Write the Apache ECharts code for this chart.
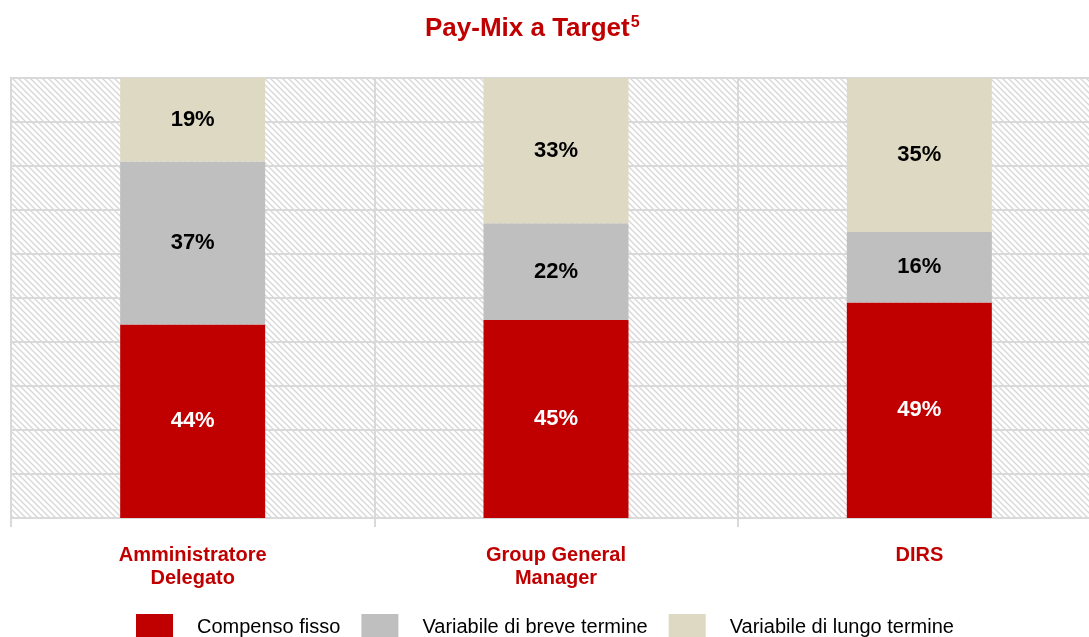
<!DOCTYPE html>
<html><head><meta charset="utf-8">
<script src="https://cdn.jsdelivr.net/npm/echarts@6/dist/echarts.min.js"></script>
<style>html,body{margin:0;padding:0;background:#fff}#c{width:1089px;height:637px}</style>
</head><body><div id="c"></div>
<script>
const categories = ['Amministratore\nDelegato', 'Group General\nManager', 'DIRS'];
const seriesNames = ['Compenso fisso', 'Variabile di breve termine', 'Variabile di lungo termine'];
const fisso = [44, 45, 49];
const breve = [37, 22, 16];
const lungo = [19, 33, 35];
const yTicks = [0, 10, 20, 30, 40, 50, 60, 70, 80, 90, 100];

const FF = "'Liberation Sans', Arial, sans-serif";
const pc = document.createElement('canvas');
pc.width = 6; pc.height = 6;
const ctx = pc.getContext('2d');
ctx.fillStyle = '#ffffff'; ctx.fillRect(0, 0, 6, 6);
ctx.strokeStyle = '#d6d6d6'; ctx.lineWidth = 1.3;
ctx.beginPath();
ctx.moveTo(-1, -1); ctx.lineTo(7, 7);
ctx.moveTo(-4, 2); ctx.lineTo(2, 8);
ctx.moveTo(2, -4); ctx.lineTo(8, 2);
ctx.stroke();

const chart = echarts.init(document.getElementById('c'));
const lbl = (color) => ({show: true, position: 'inside', color: color, fontFamily: FF, fontWeight: 'bold', fontSize: 22, formatter: p => p.value + '%'});
chart.setOption({
  animation: false,
  title: {
    text: '{a|Pay-Mix a Target}{s|5}', left: 420, top: 10,
    textStyle: {rich: {
      a: {fontFamily: FF, fontWeight: 'bold', fontSize: 26, color: '#c00000'},
      s: {fontFamily: FF, fontSize: 16, color: '#c00000', verticalAlign: 'top', padding: [0, 0, 12, 1]}
    }}
  },
  legend: {
    top: 614, left: 136, padding: 0, itemWidth: 37, itemHeight: 26, itemGap: 21, icon: 'rect',
    textStyle: {fontFamily: FF, fontSize: 20, color: '#000', padding: [0, 0, 6, 19]},
    data: seriesNames
  },
  grid: {left: 11, width: 1090, top: 78, bottom: 119, show: true, borderColor: '#d9d9d9', borderWidth: 2,
    outerBoundsMode: 'none', containLabel: false,
    backgroundColor: {image: pc, repeat: 'repeat'}},
  xAxis: {
    type: 'category', data: categories,
    axisLine: {lineStyle: {color: '#d9d9d9', width: 2}},
    axisTick: {show: true, length: 9, lineStyle: {color: '#d9d9d9', width: 2}},
    splitLine: {show: true, lineStyle: {color: '#d9d9d9', width: 2}},
    axisLabel: {margin: 26, color: '#c00000', fontFamily: FF, fontWeight: 'bold', fontSize: 20, lineHeight: 23}
  },
  yAxis: {
    type: 'value', min: yTicks[0], max: yTicks[yTicks.length - 1], interval: yTicks[1] - yTicks[0],
    axisLabel: {show: false}, axisLine: {show: false}, axisTick: {show: false},
    splitLine: {lineStyle: {color: '#d9d9d9', width: 2}}
  },
  series: [
    {name: seriesNames[0], type: 'bar', stack: 's', data: fisso, barWidth: 145, itemStyle: {color: '#c00000'}, label: lbl('#ffffff')},
    {name: seriesNames[1], type: 'bar', stack: 's', data: breve, barWidth: 145, itemStyle: {color: '#bfbfbf'}, label: lbl('#000000')},
    {name: seriesNames[2], type: 'bar', stack: 's', data: lungo, barWidth: 145, itemStyle: {color: '#ddd9c3'}, label: lbl('#000000')}
  ]
});
</script></body></html>
